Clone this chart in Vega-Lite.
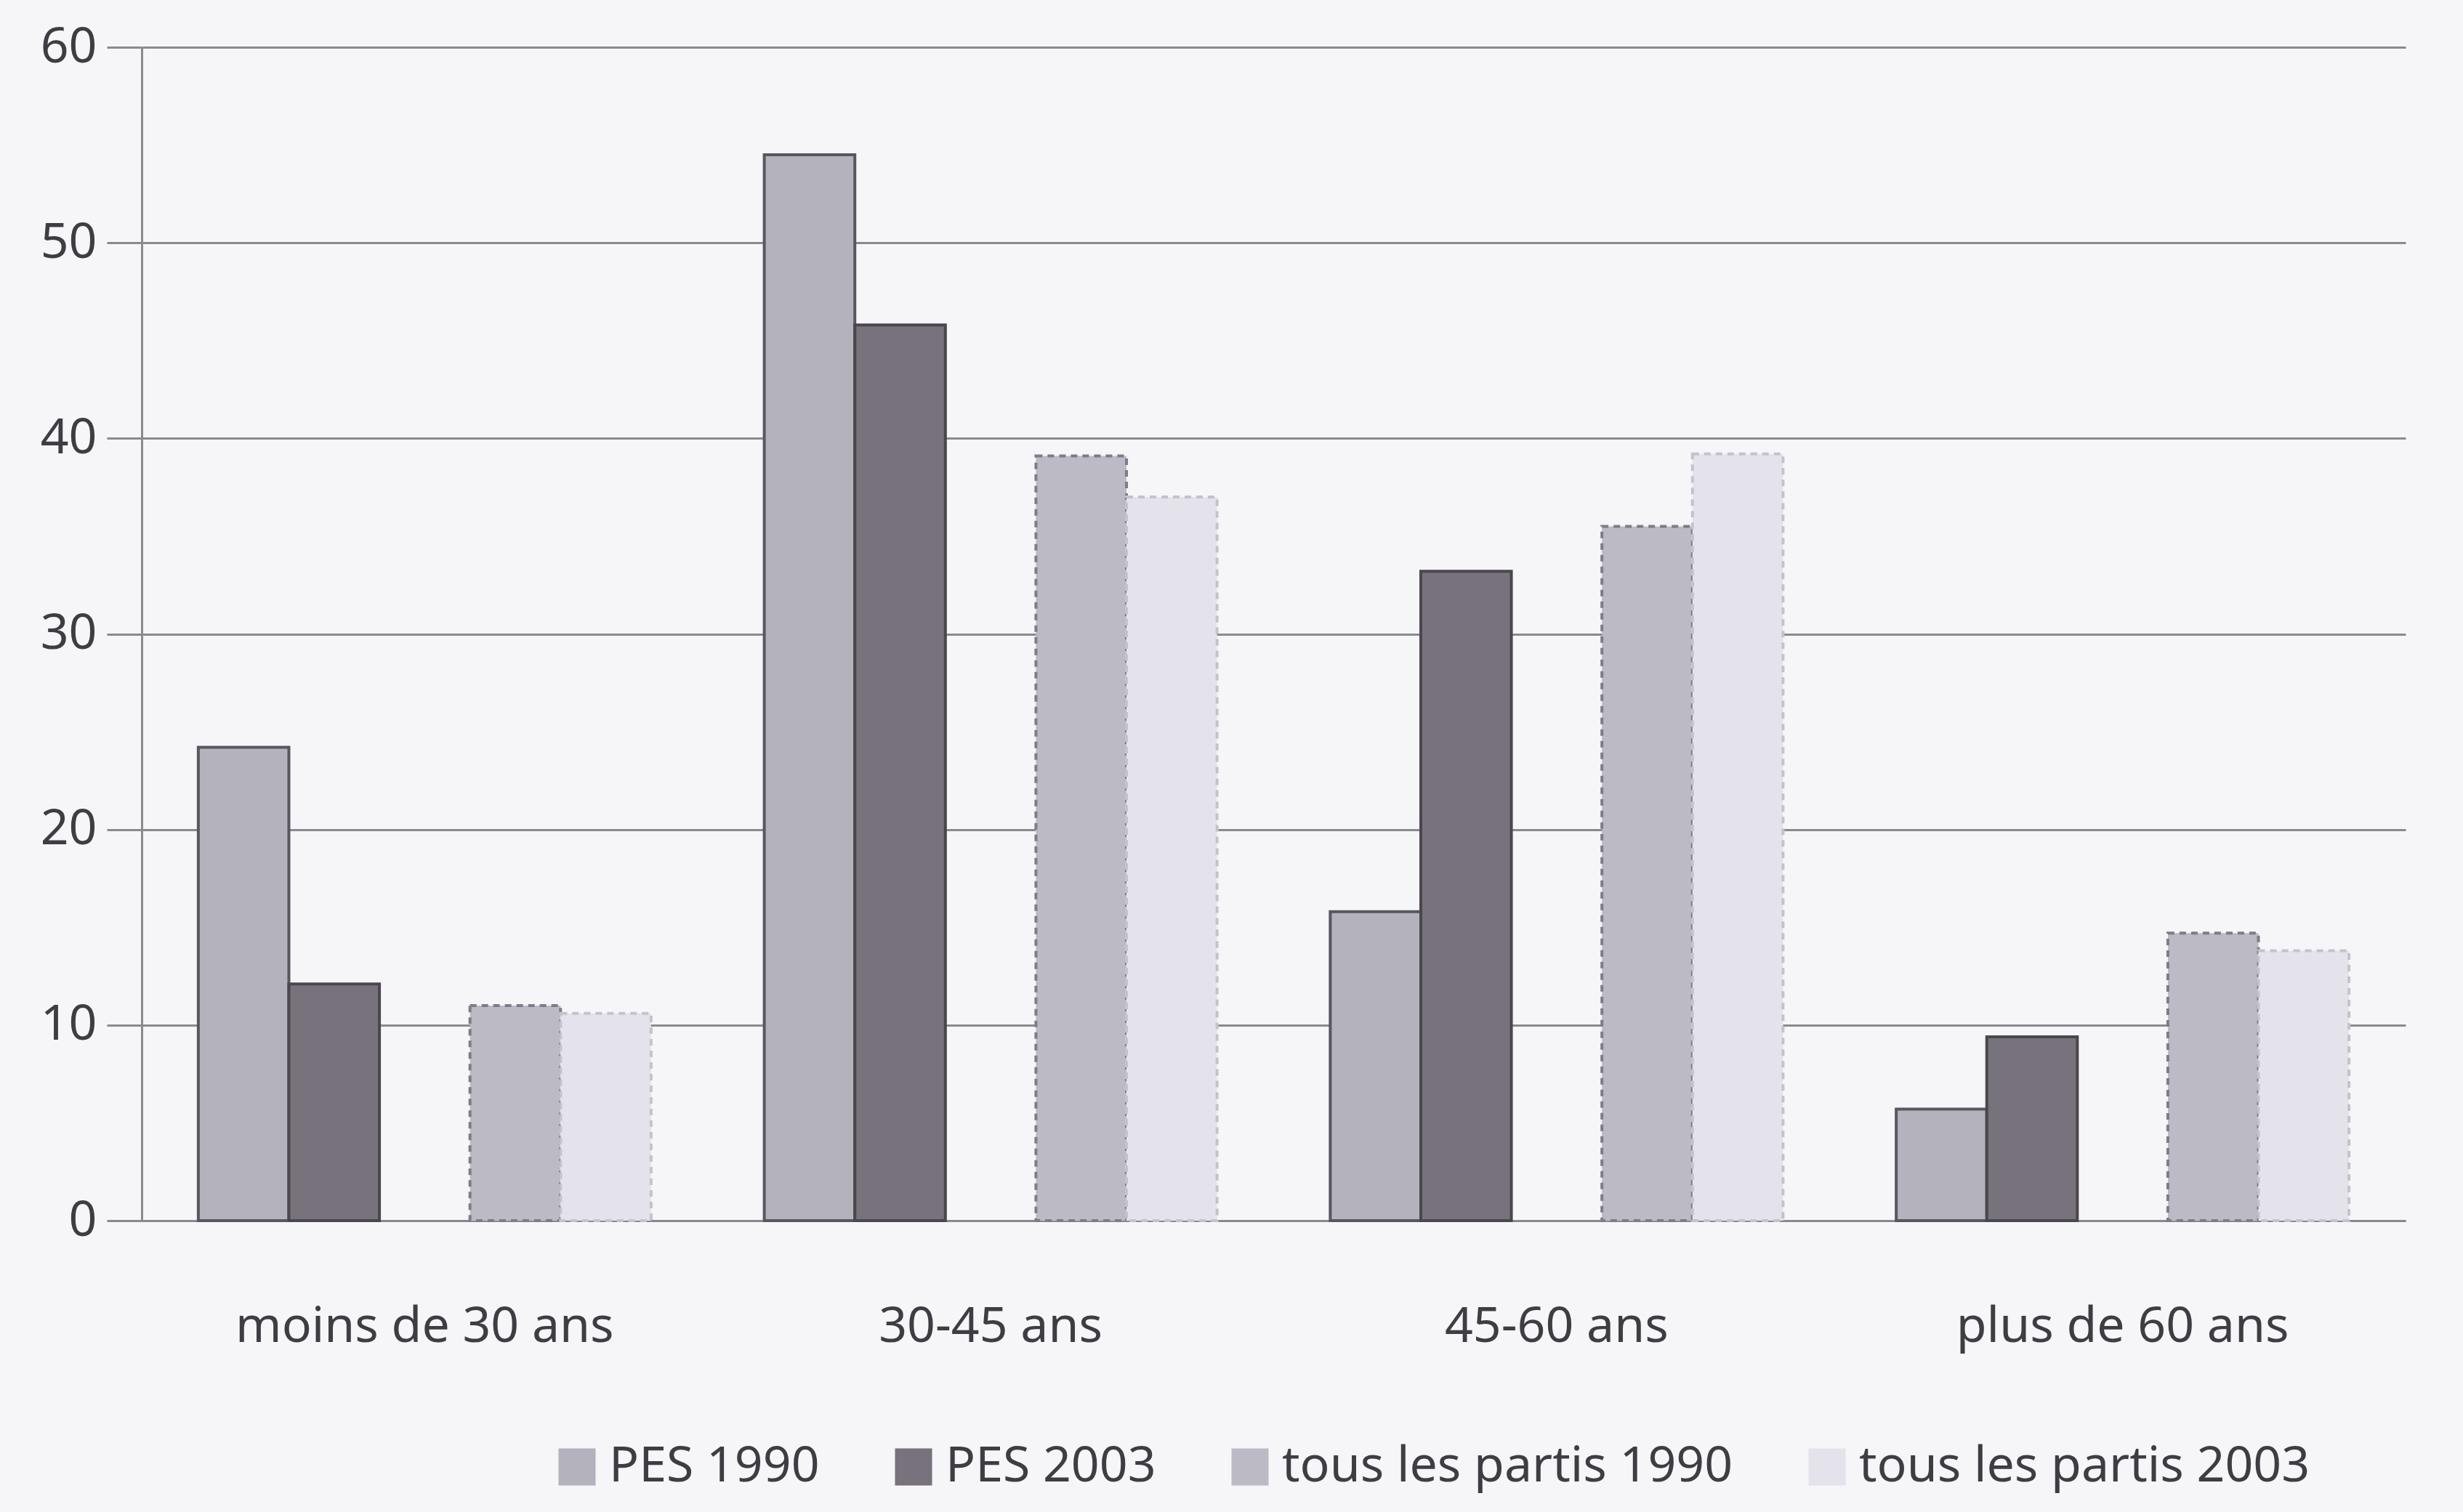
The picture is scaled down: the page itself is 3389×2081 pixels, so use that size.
{
  "$schema": "https://vega.github.io/schema/vega-lite/v6.json",
  "autosize": "none",
  "width": 3115,
  "height": 1615,
  "padding": {"left": 195, "top": 65, "right": 79, "bottom": 401},
  "background": "#f6f5f7",
  "data": {
    "values": [
      {"age": "moins de 30 ans", "serie": "PES 1990", "valeur": 24.2},
      {"age": "moins de 30 ans", "serie": "PES 2003", "valeur": 12.1},
      {"age": "moins de 30 ans", "serie": "tous les partis 1990", "valeur": 11.0},
      {"age": "moins de 30 ans", "serie": "tous les partis 2003", "valeur": 10.6},
      {"age": "30-45 ans", "serie": "PES 1990", "valeur": 54.5},
      {"age": "30-45 ans", "serie": "PES 2003", "valeur": 45.8},
      {"age": "30-45 ans", "serie": "tous les partis 1990", "valeur": 39.1},
      {"age": "30-45 ans", "serie": "tous les partis 2003", "valeur": 37.0},
      {"age": "45-60 ans", "serie": "PES 1990", "valeur": 15.8},
      {"age": "45-60 ans", "serie": "PES 2003", "valeur": 33.2},
      {"age": "45-60 ans", "serie": "tous les partis 1990", "valeur": 35.5},
      {"age": "45-60 ans", "serie": "tous les partis 2003", "valeur": 39.2},
      {"age": "plus de 60 ans", "serie": "PES 1990", "valeur": 5.7},
      {"age": "plus de 60 ans", "serie": "PES 2003", "valeur": 9.4},
      {"age": "plus de 60 ans", "serie": "tous les partis 1990", "valeur": 14.7},
      {"age": "plus de 60 ans", "serie": "tous les partis 2003", "valeur": 13.8}
    ]
  },
  "mark": {"type": "bar", "strokeWidth": 4},
  "encoding": {
    "x": {
      "field": "age",
      "type": "nominal",
      "sort": ["moins de 30 ans", "30-45 ans", "45-60 ans", "plus de 60 ans"],
      "scale": {"paddingInner": 0.2, "paddingOuter": 0.1},
      "axis": {
        "title": null,
        "labelAngle": 0,
        "labelLimit": 0,
        "labelFont": "Noto Sans",
        "labelFontSize": 68,
        "labelColor": "#3f3d44",
        "labelPadding": 112,
        "ticks": false,
        "domainColor": "#8a8990",
        "domainWidth": 3
      }
    },
    "xOffset": {
      "field": "serie",
      "type": "nominal",
      "scale": {
        "domain": ["PES 1990", "PES 2003", "espace", "tous les partis 1990", "tous les partis 2003"],
        "paddingInner": 0,
        "paddingOuter": 0
      }
    },
    "y": {
      "field": "valeur",
      "type": "quantitative",
      "scale": {"domain": [0, 60]},
      "axis": {
        "title": null,
        "values": [0, 10, 20, 30, 40, 50, 60],
        "labelLimit": 0,
        "labelFont": "Noto Sans",
        "labelFontSize": 68,
        "labelColor": "#3f3d44",
        "labelPadding": 14,
        "tickSize": 48,
        "tickColor": "#8a8990",
        "tickWidth": 3,
        "gridColor": "#8a8990",
        "gridWidth": 3,
        "domainColor": "#8a8990",
        "domainWidth": 3
      }
    },
    "color": {
      "field": "serie",
      "type": "nominal",
      "scale": {
        "domain": ["PES 1990", "PES 2003", "tous les partis 1990", "tous les partis 2003"],
        "range": ["#b3b2bd", "#77727b", "#bbbac5", "#e4e3ec"]
      },
      "legend": {
        "title": null,
        "orient": "none",
        "direction": "horizontal",
        "legendX": 565,
        "legendY": 1920,
        "symbolType": "square",
        "symbolSize": 2600,
        "symbolStrokeWidth": 0,
        "labelLimit": 0,
        "labelFont": "Noto Sans",
        "labelFontSize": 68,
        "labelColor": "#3f3d44",
        "labelOffset": 10,
        "columnPadding": 95
      }
    },
    "stroke": {
      "field": "serie",
      "type": "nominal",
      "scale": {
        "domain": ["PES 1990", "PES 2003", "tous les partis 1990", "tous les partis 2003"],
        "range": ["#58565e", "#4a474d", "#7e7c85", "#c4c3cc"]
      },
      "legend": null
    },
    "strokeDash": {
      "field": "serie",
      "type": "nominal",
      "scale": {
        "domain": ["PES 1990", "PES 2003", "tous les partis 1990", "tous les partis 2003"],
        "range": [[1, 0], [1, 0], [9, 7], [9, 7]]
      },
      "legend": null
    }
  },
  "config": {
    "view": {"stroke": null}
  }
}
